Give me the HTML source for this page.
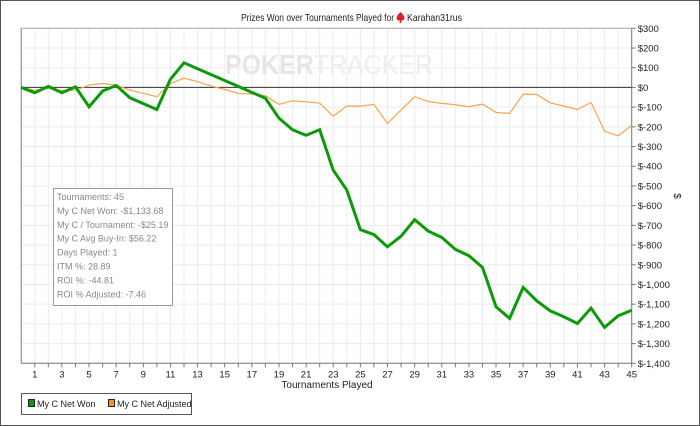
<!DOCTYPE html>
<html><head><meta charset="utf-8"><style>
body{margin:0;background:#fff;font-family:"Liberation Sans",sans-serif;}
#wrap{position:relative;width:698px;height:424px;border:1px solid #555;background:#fff;overflow:hidden}
svg text{font-family:"Liberation Sans",sans-serif;}
</style></head><body>
<div id="wrap">
<svg id="chart" width="698" height="424"></svg>
</div>
<script>
const xTickLabels=[1,3,5,7,9,11,13,15,17,19,21,23,25,27,29,31,33,35,37,39,41,43,45];
const yTicks=[300,200,100,0,-100,-200,-300,-400,-500,-600,-700,-800,-900,-1000,-1100,-1200,-1300,-1400];
const netWon=[0,-27,5,-27,3,-98,-18,10,-52,-82,-112,42,125,95,65,35,5,-25,-55,-156,-215,-243,-215,-420,-521,-722,-747,-809,-755,-671,-729,-761,-822,-854,-913,-1113,-1172,-1015,-1083,-1134,-1164,-1198,-1120,-1218,-1159,-1131];
const netAdjusted=[0,-14,-5,-17,-14,12,20,12,-14,-30,-47,20,47,29,7,-10,-30,-34,-42,-86,-68,-73,-80,-146,-95,-95,-86,-183,-115,-47,-71,-81,-88,-98,-85,-127,-132,-34,-36,-78,-95,-112,-76,-222,-246,-192];
const statLines=["Tournaments: 45","My C Net Won: -$1,133.68","My C / Tournament: -$25.19","My C Avg Buy-In: $56.22","Days Played: 1","ITM %: 28.89","ROI %: -44.81","ROI % Adjusted: -7.46"];

const NS="http://www.w3.org/2000/svg";
const svg=document.getElementById('chart');
const L=20.2,R=630.7,T=27.3,B=362.3;
const xMax=45,yMin=-1400,yMax=300;
const X=i=>L+(R-L)*i/xMax;
const Y=v=>T+(B-T)*(yMax-v)/(yMax-yMin);
function el(tag,attrs,parent){const e=document.createElementNS(NS,tag);for(const k in attrs)e.setAttribute(k,attrs[k]);(parent||svg).appendChild(e);return e;}
function fmt(v){if(v===0)return "$0";const a=Math.abs(v);const s=a>=1000?Math.floor(a/1000)+","+String(a%1000).padStart(3,"0"):String(a);return (v<0?"$-":"$")+s;}

// title
let t=el('text',{x:240,y:20,'font-size':10.5,fill:'#222',textLength:153,lengthAdjust:'spacingAndGlyphs'});
t.textContent="Prizes Won over Tournaments Played for";


el('path',{d:'M399.5,11 C395.5,15 394.5,17 396.5,19 C397.5,20 398.5,19.5 399,19 L398.5,22 L400.5,22 L400,19 C400.5,19.5 401.5,20 402.5,19 C404.5,17 403.5,15 399.5,11Z',fill:'#e02020'});
let t2=el('text',{x:406,y:20,'font-size':10.5,fill:'#222',textLength:55,lengthAdjust:'spacingAndGlyphs'});t2.textContent="Karahan31rus";



// grid
const grid=el('g',{});


for(let i=1;i<=xMax;i++){el('line',{x1:X(i),x2:X(i),y1:T,y2:B,stroke:'#ececec','stroke-width':1},grid);}
yTicks.forEach(v=>el('line',{x1:L,x2:R,y1:Y(v),y2:Y(v),stroke:'#ececec','stroke-width':1},grid));

// watermark
const wm=el('text',{x:224,y:73,'font-size':28,fill:'#e6e6e6',textLength:208,lengthAdjust:'spacingAndGlyphs'});


wm.innerHTML='<tspan font-weight="bold">POKER</tspan><tspan fill="#eeeeee">TRACKER</tspan>';

// axes
el('line',{x1:L,x2:L,y1:T,y2:B,stroke:'#777','stroke-width':1});
el('line',{x1:L,x2:R,y1:B,y2:B,stroke:'#777','stroke-width':1});
el('line',{x1:R,x2:R,y1:T,y2:B,stroke:'#777','stroke-width':1});
el('line',{x1:L,x2:R,y1:T,y2:T,stroke:'#aaa','stroke-width':1});
const zl=el('line',{x1:L,x2:R,y1:Y(0),y2:Y(0),stroke:'#333','stroke-width':1});



// y ticks
yTicks.forEach(v=>{
  el('line',{x1:R,x2:R+4,y1:Y(v),y2:Y(v),stroke:'#777'});
  const tx=el('text',{x:R+6,y:Y(v)+3.5,'font-size':9.5,fill:'#222'});tx.textContent=fmt(v);
  
  
});
for(let i=1;i<=xMax;i++)el('line',{x1:X(i),x2:X(i),y1:B,y2:B+4,stroke:'#777'});
xTickLabels.forEach(n=>{
  const tx=el('text',{x:X(n),y:B+14,'font-size':9.5,'text-anchor':'middle',fill:'#222'});tx.textContent=n;
  
  
});
const xt=el('text',{x:326,y:387,'font-size':10,'text-anchor':'middle',fill:'#222'});xt.textContent="Tournaments Played";


const yt=el('text',{x:673,y:195,'font-size':10,'text-anchor':'middle',fill:'#222',transform:'rotate(90 673 195)'});yt.textContent="$";



// series
function line(data,color,w,name){
  const p=el('polyline',{points:data.map((v,i)=>X(i)+','+Y(v)).join(' '),fill:'none',stroke:color,'stroke-width':w,'stroke-linejoin':'miter'});
  
  
}
line(netAdjusted,'#f7a54a',1.2,'net-adjusted-line');
line(netWon,'#0a9a0a',3,'net-won-line');

// stats box
const sb=el('g',{});


el('rect',{x:52.5,y:187.5,width:119,height:117,fill:'#fff',stroke:'#999'},sb);
statLines.forEach((s,i)=>{const tx=el('text',{x:56,y:199+i*13.9,'font-size':9,fill:'#888'},sb);tx.textContent=s;});

// legend
const lg=el('g',{});


el('rect',{x:20.5,y:392.5,width:170,height:21,fill:'#fff',stroke:'#555'},lg);
const e1=el('g',{},lg);


el('rect',{x:27.5,y:398.5,width:6,height:7,fill:'#0a9a0a',stroke:'#222'},e1);
let l1=el('text',{x:36,y:406,'font-size':9,fill:'#222'},e1);l1.textContent="My C Net Won";
const e2=el('g',{},lg);


el('rect',{x:107.5,y:398.5,width:6,height:7,fill:'#f7931e',stroke:'#222'},e2);
let l2=el('text',{x:116,y:406,'font-size':9,fill:'#222'},e2);l2.textContent="My C Net Adjusted";
</script>
</body></html>
